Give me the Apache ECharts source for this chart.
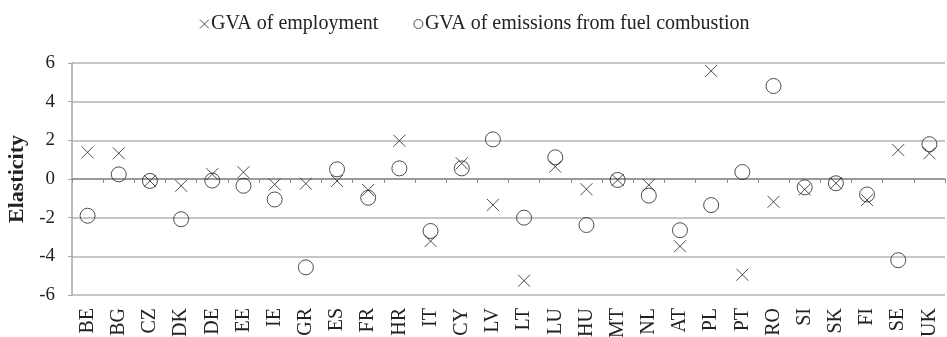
<!DOCTYPE html>
<html><head><meta charset="utf-8">
<script src="https://cdn.jsdelivr.net/npm/echarts@6/dist/echarts.min.js"></script>
<style>html,body{margin:0;padding:0;background:#fff}#c{width:947px;height:337px}</style>
</head><body><div id="c"></div>
<script>
const categories = ['BE','BG','CZ','DK','DE','EE','IE','GR','ES','FR','HR','IT','CY','LV','LT','LU','HU','MT','NL','AT','PL','PT','RO','SI','SK','FI','SE','UK'];
const employment = [1.38,1.33,-0.1,-0.35,0.25,0.35,-0.28,-0.24,-0.1,-0.57,1.98,-3.21,0.81,-1.34,-5.26,0.64,-0.53,-0.05,-0.31,-3.48,5.59,-4.95,-1.18,-0.54,-0.22,-1.09,1.5,1.33];
const emissions = [-1.9,0.24,-0.1,-2.08,-0.08,-0.35,-1.06,-4.57,0.5,-0.97,0.55,-2.69,0.55,2.05,-2.0,1.12,-2.38,-0.05,-0.86,-2.65,-1.35,0.36,4.81,-0.43,-0.22,-0.8,-4.2,1.8];
const yTicks = {min:-6, max:6, interval:2};
const crossPath = 'path://M0,0L10,10M10,0L0,10';
const serif = 'Liberation Serif';
const chart = echarts.init(document.getElementById('c'));
chart.setOption({
  animation:false,
  legend:{top:9,left:'center',itemGap:33,itemWidth:9,itemHeight:9,
    textStyle:{fontFamily:serif,fontSize:20,color:'#222',padding:[0,0,0,-3]},
    data:[{name:'GVA of employment',icon:crossPath,itemStyle:{color:'none',borderColor:'#222',borderWidth:1}},
          {name:'GVA of emissions from fuel combustion',icon:'circle',itemStyle:{color:'none',borderColor:'#222',borderWidth:1}}]},
  grid:{left:72,right:2,top:63,bottom:42,containLabel:false,outerBoundsMode:'none'},
  xAxis:[
    {type:'category',data:categories,position:'bottom',axisLine:{show:true,onZero:true,lineStyle:{color:'#8c8c8c',width:1.5}},
     axisTick:{show:true,length:4,inside:false,lineStyle:{color:'#8c8c8c'}},axisLabel:{show:false}},
    {type:'category',data:categories,position:'bottom',axisLine:{show:false,onZero:false},axisTick:{show:false},
     axisLabel:{rotate:90,fontFamily:serif,fontSize:20,color:'#222',margin:13}}
  ],
  yAxis:{type:'value',min:yTicks.min,max:yTicks.max,interval:yTicks.interval,
    name:'Elasticity',nameLocation:'middle',nameGap:42,
    nameTextStyle:{fontFamily:serif,fontSize:22,fontWeight:'bold',color:'#222'},
    axisLine:{show:true,lineStyle:{color:'#a6a6a6',width:1.5}},
    axisTick:{show:true,length:4,lineStyle:{color:'#a6a6a6'}},
    splitLine:{lineStyle:{color:'#b3b3b3',width:1.5}},
    axisLabel:{fontFamily:serif,fontSize:19,color:'#222',margin:17}},
  series:[
    {name:'GVA of employment',type:'scatter',xAxisIndex:0,data:employment,symbol:crossPath,symbolSize:12,
     itemStyle:{color:'none',borderColor:'#222',borderWidth:1}},
    {name:'GVA of emissions from fuel combustion',type:'scatter',xAxisIndex:0,data:emissions,symbol:'circle',symbolSize:15,
     itemStyle:{color:'none',borderColor:'#222',borderWidth:1}}
  ]
});
</script></body></html>
